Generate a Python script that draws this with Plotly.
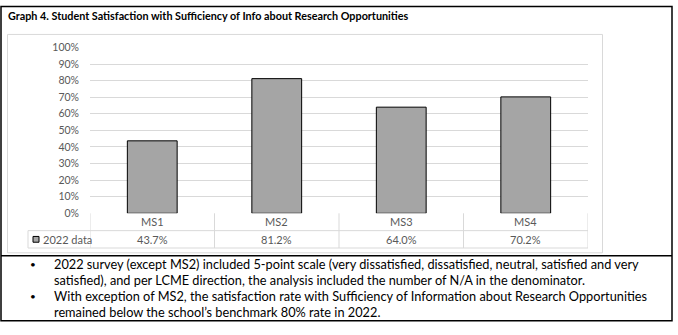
import plotly.graph_objects as go

# Chart data
categories = ["MS1", "MS2", "MS3", "MS4"]
values = [43.7, 81.2, 64.0, 70.2]
series_name = "2022 data"
y_tick_values = [0, 10, 20, 30, 40, 50, 60, 70, 80, 90, 100]
y_tick_labels = [f"{v}%" for v in y_tick_values]
title_text = "Graph 4. Student Satisfaction with Sufficiency of Info about Research Opportunities"
notes = [
    ["2022 survey (except MS2) included 5-point scale (very dissatisfied, dissatisfied, neutral, satisfied and very",
     "satisfied), and per LCME direction, the analysis included the number of N/A in the denominator."],
    ["With exception of MS2, the satisfaction rate with Sufficiency of Information about Research Opportunities",
     "remained below the school\u2019s benchmark 80% rate in 2022."],
]

W, H = 678, 335
FONT = "Lato, Open Sans, Liberation Sans, Arial"
GRID = "#d9d9d9"
TXT = "#595959"
BAR = "#a5a5a5"


def px(v):
    return v / W


def py(v):
    return 1 - v / H


fig = go.Figure()
fig.add_trace(go.Bar(
    x=categories, y=values, name=series_name, width=0.4,
    marker=dict(color=BAR, line=dict(color="#000000", width=1)),
    showlegend=False,
))

shapes = []
annotations = []

# outer frame and separator
shapes.append(dict(type="rect", xref="paper", yref="paper",
                   x0=px(1), x1=px(672), y0=py(326.5), y1=py(0.5),
                   line=dict(color="#000000", width=1.5)))
shapes.append(dict(type="line", xref="paper", yref="paper",
                   x0=px(1), x1=px(672), y0=py(259), y1=py(259),
                   line=dict(color="#000000", width=1.5)))
# chart area border
shapes.append(dict(type="rect", xref="paper", yref="paper",
                   x0=px(7.5), x1=px(602.5), y0=py(256), y1=py(29.5),
                   line=dict(color=GRID, width=1)))

# data table grid
row_top, row_mid, row_bot = 215, 233, 251
for i in range(len(categories) + 1):
    shapes.append(dict(type="line", xref="x", yref="paper",
                       x0=i - 0.5, x1=i - 0.5, y0=py(row_bot), y1=py(row_top),
                       line=dict(color=GRID, width=1)))
for yy in (row_mid, row_bot):
    shapes.append(dict(type="line", xref="paper", yref="paper",
                       x0=px(28), x1=px(588), y0=py(yy), y1=py(yy),
                       line=dict(color=GRID, width=1)))
shapes.append(dict(type="line", xref="paper", yref="paper",
                   x0=px(28), x1=px(28), y0=py(row_bot), y1=py(row_mid),
                   line=dict(color=GRID, width=1)))
# legend key in table
shapes.append(dict(type="rect", xref="paper", yref="paper",
                   x0=px(33), x1=px(39), y0=py(245), y1=py(239),
                   fillcolor=BAR, line=dict(color="#000000", width=1)))
annotations.append(dict(text=series_name, xref="paper", yref="paper",
                        x=px(41), y=py(242), xanchor="left", yanchor="middle",
                        showarrow=False, font=dict(family=FONT, size=11, color=TXT)))

for i, (c, v) in enumerate(zip(categories, values)):
    annotations.append(dict(text=c, xref="x", yref="paper", x=i, y=py(224),
                            xanchor="center", yanchor="middle", showarrow=False,
                            font=dict(family=FONT, size=11, color=TXT)))
    annotations.append(dict(text=f"{v:.1f}%", xref="x", yref="paper", x=i, y=py(242),
                            xanchor="center", yanchor="middle", showarrow=False,
                            font=dict(family=FONT, size=11, color=TXT)))

# title
annotations.append(dict(text=f"<b>{title_text}</b>", xref="paper", yref="paper",
                        x=px(6), y=py(10), xanchor="left", yanchor="middle",
                        showarrow=False, font=dict(family=FONT, size=10.8, color="#000000")))

# bullet notes
line_y = [[268, 284], [301, 317]]
for para, ys in zip(notes, line_y):
    annotations.append(dict(text="\u2022", xref="paper", yref="paper",
                            x=px(33), y=py(ys[0]), xanchor="center", yanchor="middle",
                            showarrow=False, font=dict(family=FONT, size=10, color="#000000")))
    for line, yy in zip(para, ys):
        annotations.append(dict(text=line, xref="paper", yref="paper",
                                x=px(52), y=py(yy), xanchor="left", yanchor="middle",
                                showarrow=False, font=dict(family=FONT, size=12.75, color="#000000")))

fig.update_layout(
    width=W, height=H,
    margin=dict(l=0, r=0, t=0, b=0),
    paper_bgcolor="#ffffff", plot_bgcolor="#ffffff",
    shapes=shapes, annotations=annotations,
    xaxis=dict(domain=[px(90), px(588)], range=[-0.5, 3.5], type="category",
               showticklabels=False, showgrid=False, zeroline=False,
               showline=False, ticks=""),
    yaxis=dict(domain=[py(215), py(43)], range=[0, 100],
               tickmode="array", tickvals=y_tick_values, ticktext=y_tick_labels,
               showgrid=True, gridcolor=GRID, gridwidth=1,
               zeroline=False, showline=False, ticks="", ticklabelstandoff=10,
               tickfont=dict(family=FONT, size=10.5, color=TXT)),
)

fig.write_html("out.html")
